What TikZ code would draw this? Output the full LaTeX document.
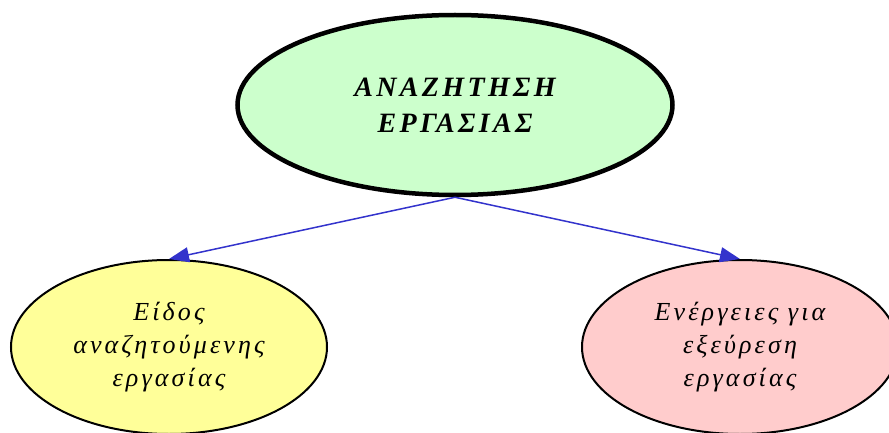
\documentclass[tikz,border=0pt]{standalone}
\usepackage{fontspec}
\setmainfont{Liberation Serif}[LetterSpace=12]
\usetikzlibrary{arrows, arrows.meta, shapes, positioning, calc}

\definecolor{topfill}{HTML}{CCFFCC}
\definecolor{leftfill}{HTML}{FFFF99}
\definecolor{rightfill}{HTML}{FFCCCC}
\definecolor{linkblue}{HTML}{3333CC}

\begin{document}
\begin{tikzpicture}
            [x=1pt, y=-1pt, ->, >={Triangle[length=20pt, width=15pt]}, auto,
            topic/.style={ellipse, draw=black, line width=4.5pt, fill=topfill, inner sep=0pt,
                minimum width=435pt, minimum height=180pt, align=center,
                font=\fontsize{28}{36}\selectfont\bfseries\itshape},
            branch/.style={ellipse, draw=black, line width=2pt, inner sep=0pt,
                minimum width=316pt, minimum height=174pt, align=center,
                font=\fontsize{26}{33}\selectfont\itshape},
            link/.style={draw=linkblue, fill=linkblue, line width=1.5pt}]
            \useasboundingbox (0,0) rectangle (889,433);
            \node[topic]                  (search) at (455,105)
            {ΑΝΑΖΗΤΗΣΗ \\ ΕΡΓΑΣΙΑΣ};
            \node[branch, fill=leftfill]  (kind)   at (169,347)
            {Είδος \\ αναζητούμενης \\ εργασίας};
            \node[branch, fill=rightfill] (action) at (740,347)
            {Ενέργειες για \\ εξεύρεση \\ εργασίας};
            \draw[link] (search.south) -- (kind.north);
            \draw[link] (search.south) -- (action.north);
        \end{tikzpicture}
\end{document}
